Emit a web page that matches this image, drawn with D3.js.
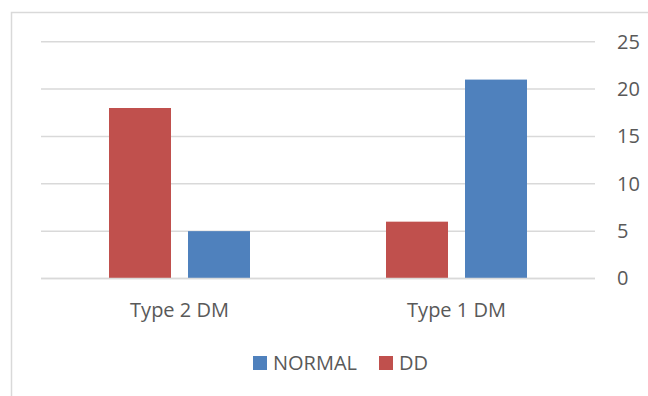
<!DOCTYPE html>
<html>
<head>
<meta charset="utf-8">
<script src="https://cdn.jsdelivr.net/npm/d3@7"></script>
<style>
  body { margin: 0; background: #fff; }
  text { font-family: "Open Sans", sans-serif; fill: #595959; }
</style>
</head>
<body>
<div id="vis"></div>
<script>
// chart data
var categories = ['Type 2 DM', 'Type 1 DM'];
var seriesNames = ['DD', 'NORMAL'];
var ddValues = [18, 6];
var normalValues = [5, 21];
var yTicks = [0, 5, 10, 15, 20, 25];
var legendOrder = ['NORMAL', 'DD'];

var colors = { DD: '#c0504d', NORMAL: '#4f81bd' };

var width = 648,
	height = 396;
var margin = { top: 41.7, left: 41, bottom: 117.5, right: 53 };
var fontSize = '20px';

var svg = d3.select('#vis').append('svg')
	.attr('width', width)
	.attr('height', height);

// outer chart border (runs off the right and bottom edge)
svg.append('rect')
	.attr('x', 11.5).attr('y', 12.5)
	.attr('width', 700).attr('height', 500)
	.attr('fill', 'none')
	.attr('stroke', '#d9d9d9')
	.attr('stroke-width', 1.5);

var x0 = d3.scaleBand()
	.domain(categories)
	.range([margin.left, width - margin.right]);

var y = d3.scaleLinear()
	.domain([0, 25])
	.range([height - margin.bottom, margin.top]);

// gridlines
svg.append('g').selectAll('line')
	.data(yTicks)
	.enter().append('line')
	.attr('x1', margin.left)
	.attr('x2', width - margin.right)
	.attr('y1', function(d) { return y(d); })
	.attr('y2', function(d) { return y(d); })
	.attr('stroke', '#d9d9d9')
	.attr('stroke-width', 1.5);

// right axis labels
var yAxis = d3.axisRight(y).tickValues(yTicks).tickSize(0).tickPadding(22);
var yg = svg.append('g')
	.attr('transform', 'translate(' + (width - margin.right) + ',0)')
	.call(yAxis);
yg.select('.domain').remove();
yg.selectAll('text')
	.style('font-size', fontSize)
	.attr('fill', '#595959');

// bars
var barW = 62, gap = 17;
var x1 = d3.scaleOrdinal()
	.domain(seriesNames)
	.range([-(barW + gap / 2), gap / 2]);

var rows = categories.map(function(c, i) {
	return { cat: c, DD: ddValues[i], NORMAL: normalValues[i] };
});

var groups = svg.append('g').selectAll('g')
	.data(rows)
	.enter().append('g')
	.attr('transform', function(d) {
		return 'translate(' + (x0(d.cat) + x0.bandwidth() / 2) + ',0)';
	});

groups.selectAll('rect')
	.data(function(d) {
		return seriesNames.map(function(s) { return { key: s, value: d[s] }; });
	})
	.enter().append('rect')
	.attr('x', function(d) { return x1(d.key); })
	.attr('width', barW)
	.attr('y', function(d) { return y(d.value); })
	.attr('height', function(d) { return y(0) - y(d.value); })
	.attr('fill', function(d) { return colors[d.key]; });

// baseline on top of bars
svg.append('line')
	.attr('x1', margin.left).attr('x2', width - margin.right)
	.attr('y1', y(0)).attr('y2', y(0))
	.attr('stroke', '#d9d9d9').attr('stroke-width', 1.5);

// category labels
var xAxis = d3.axisBottom(x0).tickSize(0).tickPadding(24);
var xg = svg.append('g')
	.attr('transform', 'translate(0,' + y(0) + ')')
	.call(xAxis);
xg.select('.domain').remove();
xg.selectAll('text')
	.style('font-size', fontSize)
	.attr('fill', '#595959');

// legend
var legendX = [253, 379];
var legend = svg.append('g').selectAll('g')
	.data(legendOrder)
	.enter().append('g')
	.attr('transform', function(d, i) { return 'translate(' + legendX[i] + ',356)'; });

legend.append('rect')
	.attr('width', 14).attr('height', 14)
	.attr('fill', function(d) { return colors[d]; });

legend.append('text')
	.attr('x', 20)
	.attr('y', 14)
	.style('font-size', fontSize)
	.text(function(d) { return d; });
</script>
</body>
</html>
